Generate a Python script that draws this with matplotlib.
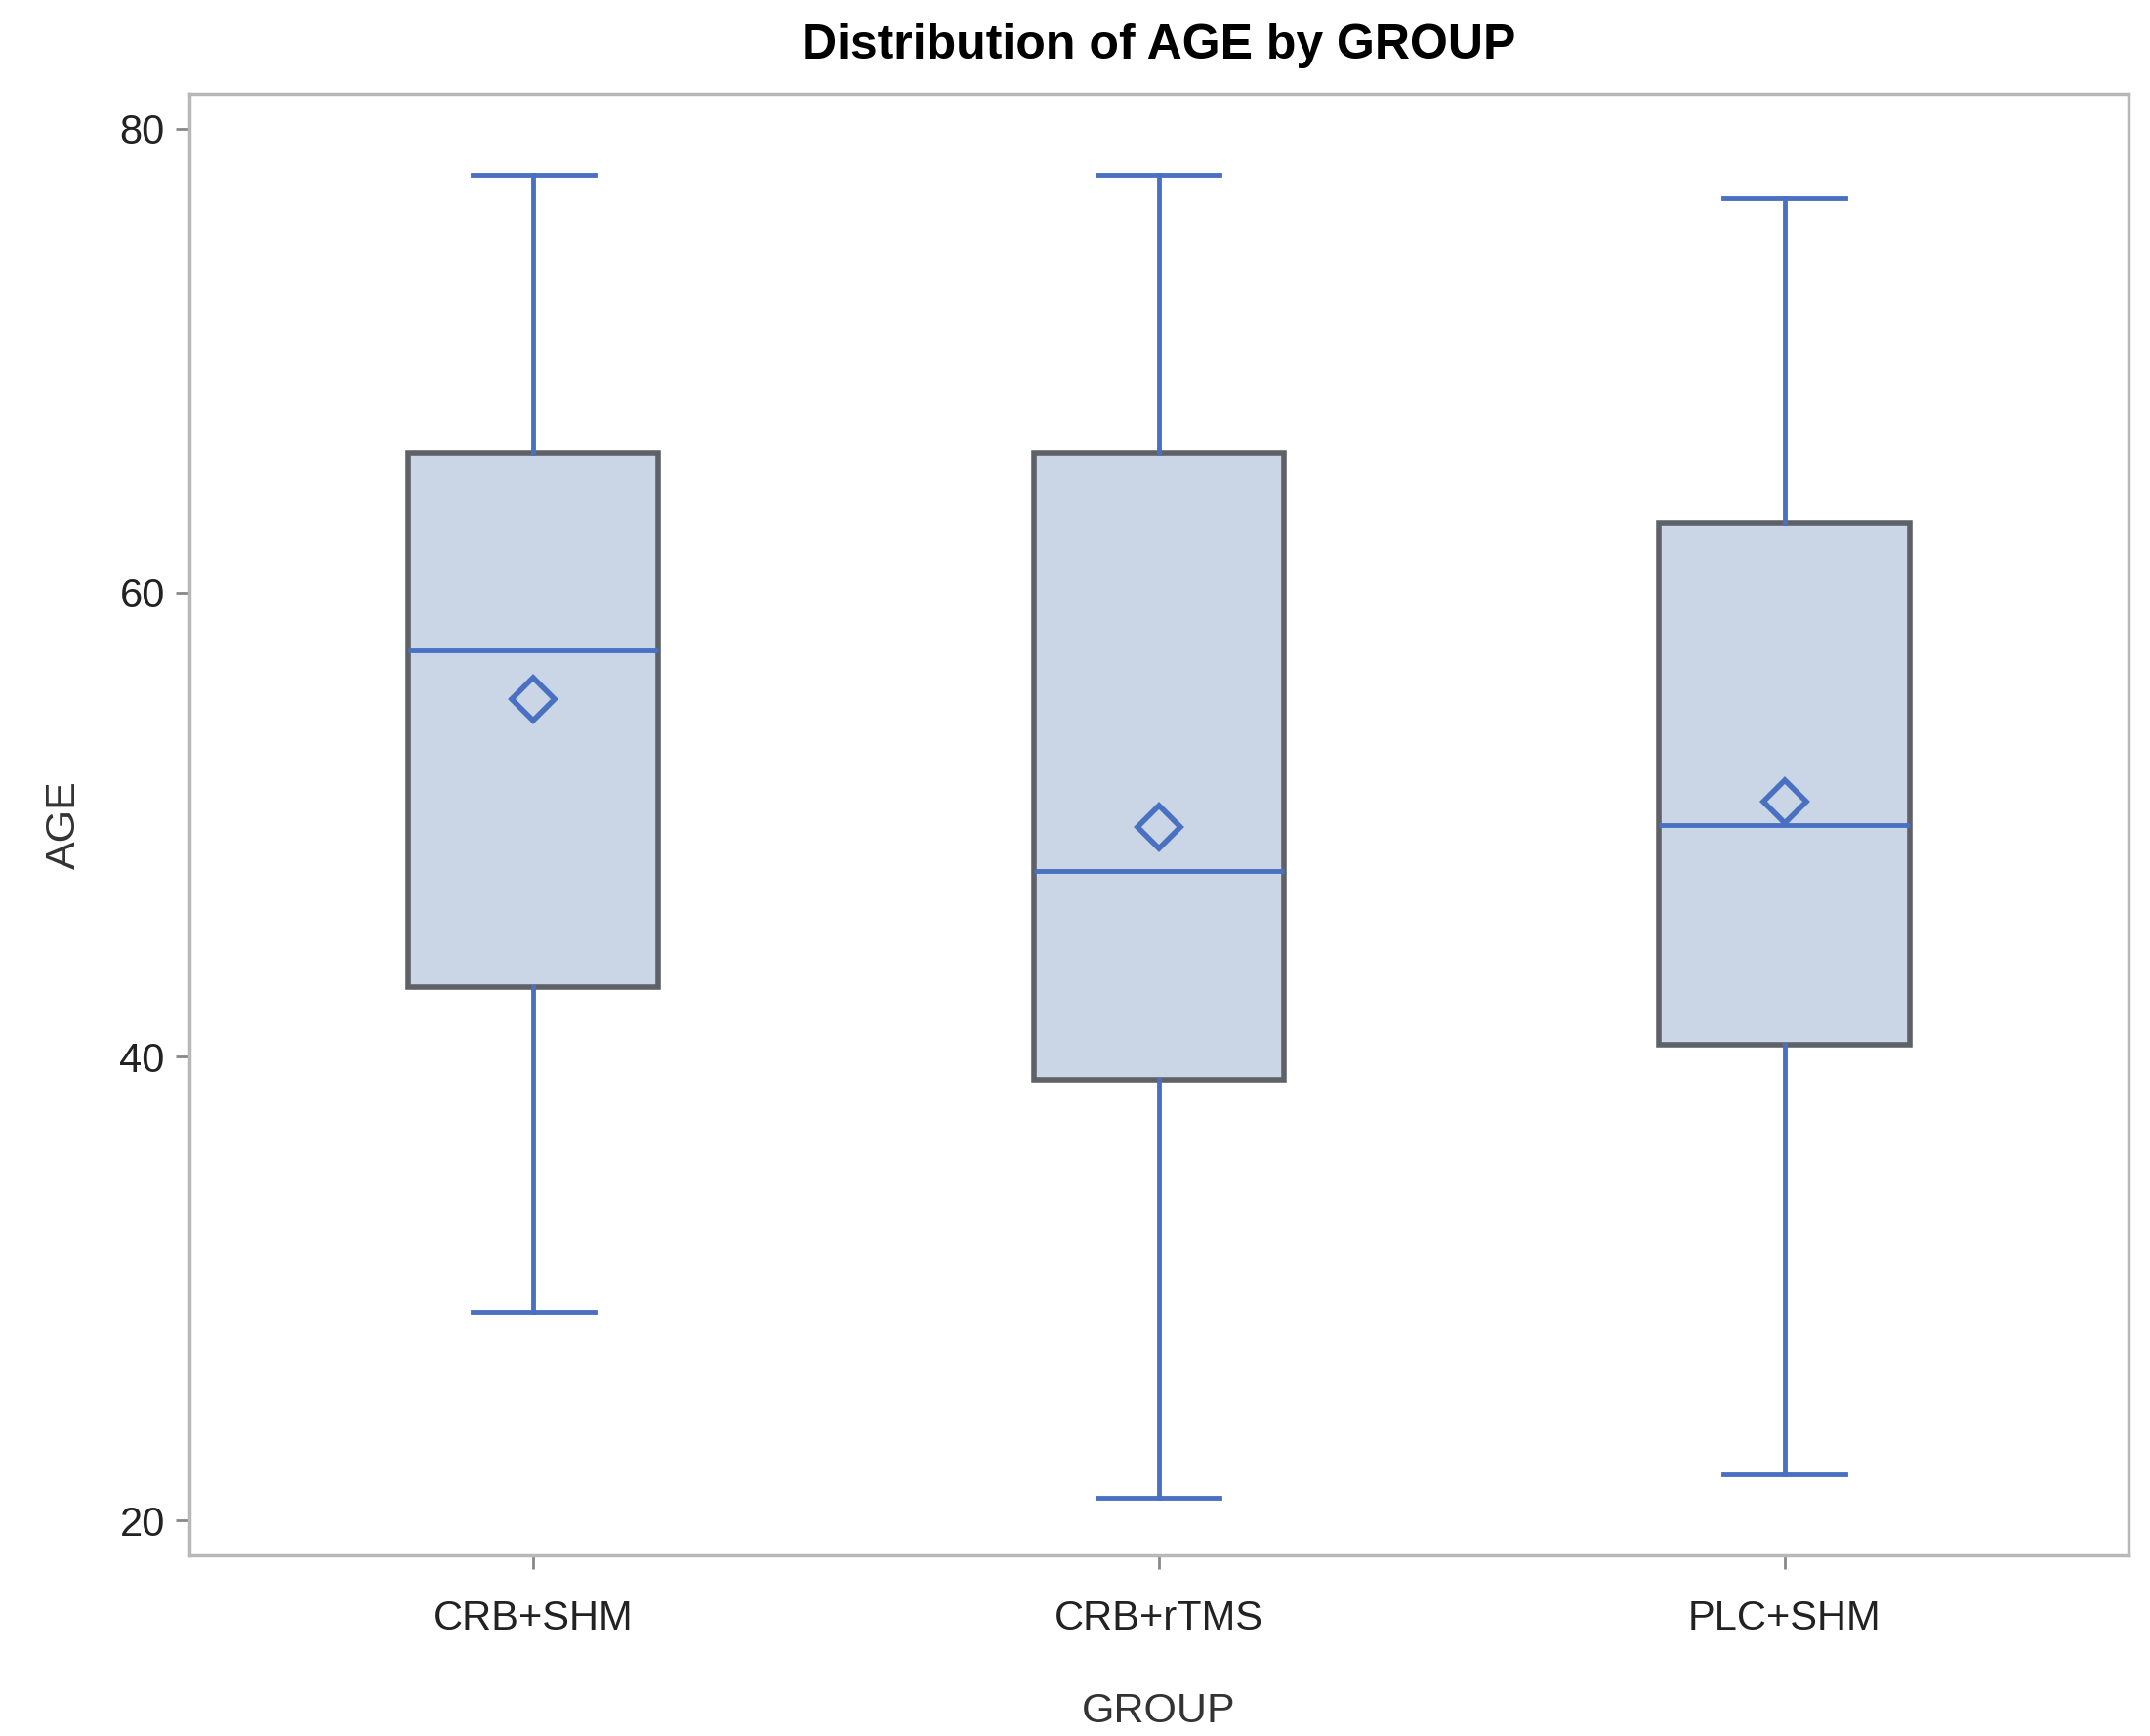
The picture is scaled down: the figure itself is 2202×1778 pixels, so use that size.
import matplotlib.pyplot as plt

groups = ["CRB+SHM", "CRB+rTMS", "PLC+SHM"]
whisker_low = [29, 21, 22]
q1 = [43, 39, 40.5]
median = [57.5, 48, 50]
mean = [55.4, 49.9, 51]
q3 = [66, 66, 63]
whisker_high = [78, 78, 77]

plt.rcParams['font.family'] = ['Liberation Sans', 'DejaVu Sans']

blue = '#4a70c2'
stats = []
for i, g in enumerate(groups):
    stats.append({
        'label': g, 'whislo': whisker_low[i], 'q1': q1[i], 'med': median[i],
        'mean': mean[i], 'q3': q3[i], 'whishi': whisker_high[i], 'fliers': [],
    })

fig = plt.figure(figsize=(22.02, 17.78), dpi=100)
ax = fig.add_axes([0.088, 0.104, 0.902, 0.842])

ax.bxp(stats, positions=[1, 2, 3], widths=0.4, capwidths=0.195,
       showmeans=True, patch_artist=True,
       boxprops=dict(facecolor='#cad6e6', edgecolor='#5e6166', linewidth=4),
       whiskerprops=dict(color=blue, linewidth=3.5),
       capprops=dict(color=blue, linewidth=3.5),
       medianprops=dict(color=blue, linewidth=3.5),
       meanprops=dict(marker='D', markersize=22, markerfacecolor='none',
                      markeredgecolor=blue, markeredgewidth=4))

ax.set_xlim(0.45, 3.55)
ax.set_ylim(18.5, 81.5)
ax.set_yticks([20, 40, 60, 80])
ax.set_xticks([1, 2, 3])
ax.set_xticklabels(groups)

for s in ax.spines.values():
    s.set_color('#b8b8b8')
    s.set_linewidth(2.5)
ax.tick_params(axis='both', labelsize=30, color='#888888', width=2, length=10,
               labelcolor='#222222', pad=8)
ax.tick_params(axis='x', pad=22)

ax.set_xlabel("GROUP", fontsize=31, color='#333333', labelpad=40)
ax.set_ylabel("AGE", fontsize=31, color='#333333', labelpad=26)
ax.set_title("Distribution of AGE by GROUP", fontsize=36, fontweight='bold',
             pad=26)

fig.savefig("out.png", dpi=100, facecolor='white')
